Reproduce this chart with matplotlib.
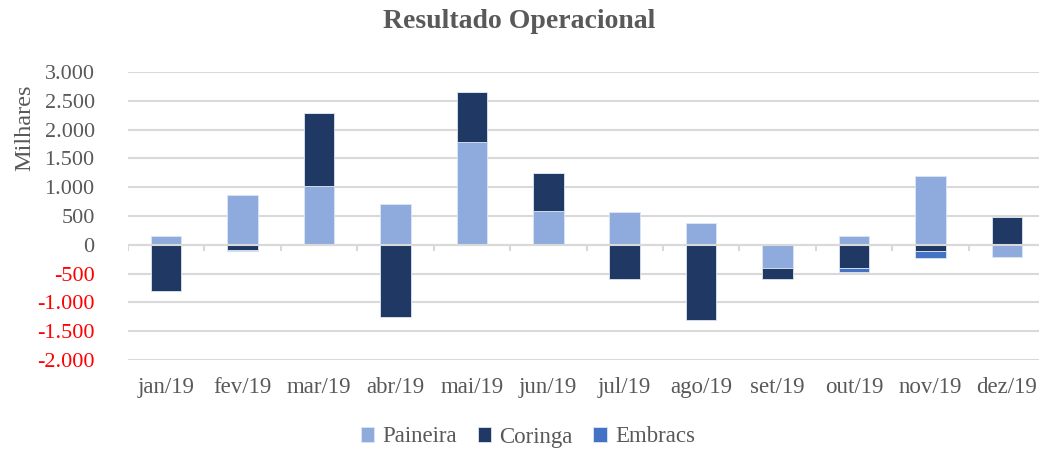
import numpy as np
import matplotlib.pyplot as plt

# dados (milhares)
meses = ['jan/19', 'fev/19', 'mar/19', 'abr/19', 'mai/19', 'jun/19',
         'jul/19', 'ago/19', 'set/19', 'out/19', 'nov/19', 'dez/19']
paineira = [150, 860, 1020, 700, 1780, 580, 570, 385, -410, 150, 1190, -210]
coringa = [-810, -90, 1260, -1250, 870, 670, -600, -1310, -180, -395, -115, 480]
embracs = [0, -15, 0, 0, 0, 0, 0, 0, 0, -85, -115, 0]

series = [('Paineira', paineira, '#8FAADC'),
          ('Coringa', coringa, '#203864'),
          ('Embracs', embracs, '#4472C4')]

cinza = '#595959'
plt.rcParams['font.family'] = ['Liberation Serif', 'DejaVu Serif']

fig = plt.figure(figsize=(10.39, 4.5), dpi=100)
ax = fig.add_axes([128 / 1039, 90 / 450, 917 / 1039, 288 / 450])

x = np.arange(len(meses))
pos = np.zeros(len(meses))
neg = np.zeros(len(meses))
for nome, vals, cor in series:
    v = np.array(vals, dtype=float)
    base = np.where(v >= 0, pos, neg)
    ax.bar(x, v, width=0.4, bottom=base, color=cor, edgecolor='#dce6f2',
           linewidth=0.6, label=nome, zorder=2)
    pos = pos + np.where(v >= 0, v, 0)
    neg = neg + np.where(v < 0, v, 0)

ax.set_xlim(-0.5, len(meses) - 0.5)
ax.set_ylim(-2000, 3000)
ax.set_yticks(np.arange(-2000, 3001, 500))
ax.set_yticklabels([f'{t:,}'.replace(',', '.') for t in range(-2000, 3001, 500)])
for lab, t in zip(ax.get_yticklabels(), range(-2000, 3001, 500)):
    lab.set_color('red' if t < 0 else cinza)
ax.tick_params(axis='y', length=0, labelsize=16, pad=24)
ax.grid(axis='y', color='#d9d9d9', linewidth=1.5, zorder=0)
ax.set_axisbelow(True)

# eixo das categorias no zero, rotulos embaixo
ax.axhline(0, color='#d9d9d9', linewidth=1.5, zorder=3)
ax.vlines(np.arange(len(meses) + 1) - 0.5, -110, 0, color='#d9d9d9',
          linewidth=1.5, zorder=3)
ax.set_xticks(x)
ax.set_xticklabels(meses)
ax.tick_params(axis='x', length=0, labelsize=16.5, labelcolor=cinza, pad=12)

for s in ax.spines.values():
    s.set_visible(False)

fig.text(0.5, 1 - 22 / 450, 'Resultado Operacional', ha='center', va='center',
         fontsize=20, fontweight='bold', color=cinza)
fig.text(25 / 1039, 1 - 128 / 450, 'Milhares', rotation=90, ha='center',
         va='center', fontsize=17.5, color=cinza)

fig.legend(loc='center', bbox_to_anchor=(0.508, 1 - 437 / 450), ncol=3,
           frameon=False, fontsize=16.5, labelcolor=cinza, handlelength=0.6,
           handleheight=0.6, columnspacing=0.9, handletextpad=0.35)

fig.savefig('out.png', dpi=100)
